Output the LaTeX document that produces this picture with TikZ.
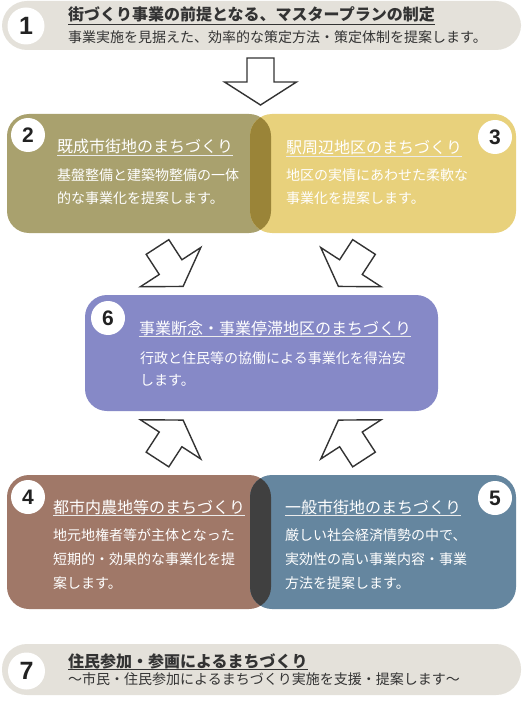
\documentclass[tikz,border=0pt]{standalone}
\usepackage{fontspec}
\setmainfont{Noto Sans CJK JP}
\newfontfamily\numfont{Liberation Sans}
\definecolor{pillgray}{HTML}{E4E1DA}
\definecolor{olivebox}{HTML}{A9A16E}
\definecolor{goldbox}{HTML}{E8D17C}
\definecolor{olivegold}{HTML}{9A8438}
\definecolor{violetbox}{HTML}{8689C7}
\definecolor{brownbox}{HTML}{A07868}
\definecolor{bluebox}{HTML}{65869F}
\definecolor{darkover}{HTML}{404040}
\definecolor{inkdark}{HTML}{333333}
\definecolor{numdark}{HTML}{222222}
\newcommand\myBlockArrow[3]{%
  \draw[barrow, shift={(#1,#2)}, rotate=#3]
    (-13.5,0) -- (13.5,0) -- (13.5,24) -- (36,24) -- (0,47) -- (-36,24) -- (-13.5,24) -- cycle;}
\begin{document}
\begin{tikzpicture}[x=1pt,y=-1pt,
  box/.style={rounded corners=22pt},
  pill/.style={rounded corners=25pt, fill=pillgray},
  numc/.style={circle, fill=white, inner sep=0pt, minimum size=34pt,
    font=\numfont\bfseries\fontsize{21}{21}\selectfont, text=numdark},
  bignumc/.style={numc, minimum size=37pt, font=\numfont\bfseries\fontsize{25}{25}\selectfont},
  ttl/.style={anchor=base west, inner sep=0pt, font=\fontsize{16}{16}\selectfont, text=white},
  bdy/.style={anchor=base west, inner sep=0pt, font=\fontsize{14}{14}\selectfont, text=white},
  dttl/.style={ttl, text=inkdark, font=\bfseries\fontsize{16}{16}\selectfont},
  dbdy/.style={bdy, text=inkdark},
  ulw/.style={draw=white!92!black, line width=0.9pt},
  uld/.style={draw=inkdark, line width=0.9pt},
  barrow/.style={draw=inkdark, fill=white, line width=1.4pt, line join=miter}
]
\useasboundingbox (0,0) rectangle (522,703);
\fill[white] (0,0) rectangle (522,703);

% ---- Box 1
\fill[pill] (2,1) rectangle (521,50);
\node[bignumc] (n1) at (26,26) {1};
\node[dttl] (t1) at (68,21) {街づくり事業の前提となる、マスタープランの制定};
\draw[uld] ([yshift=-3pt]t1.base west) -- ([yshift=-3pt]t1.base east);
\node[dbdy] (s1) at (68,43) {事業実施を見据えた、効率的な策定方法・策定体制を提案します。};

% ---- top arrow
\myBlockArrow{260.5}{58}{0}

% ---- Boxes 2 and 3
\fill[box, olivebox] (7,114) rectangle (271,233);
\fill[box, goldbox] (250,114) rectangle (516,233);
\begin{scope}
  \clip[box] (7,114) rectangle (271,233);
  \fill[box, olivegold] (250,114) rectangle (516,233);
\end{scope}
\node[numc] (n2) at (28,135) {2};
\node[ttl] (t2) at (57,153) {既成市街地のまちづくり};
\draw[ulw] ([yshift=-2.5pt]t2.base west) -- ([yshift=-2.5pt]t2.base east);
\node[bdy] (b2a) at (57,180.5) {基盤整備と建築物整備の一体};
\node[bdy] (b2b) at (57,204) {的な事業化を提案します。};

\node[numc] (n3) at (495,137) {3};
\node[ttl] (t3) at (286,153.5) {駅周辺地区のまちづくり};
\draw[ulw] ([yshift=-2.5pt]t3.base west) -- ([yshift=-2.5pt]t3.base east);
\node[bdy] (b3a) at (286,180.5) {地区の実情にあわせた柔軟な};
\node[bdy] (b3b) at (286,204) {事業化を提案します。};

% ---- arrows towards box 6
\myBlockArrow{157.5}{247}{33}
\myBlockArrow{364}{247}{-33}

% ---- Box 6
\fill[box, violetbox] (85,295) rectangle (438,411);
\node[numc] (n6) at (108,318) {6};
\node[ttl] (t6) at (139,334) {事業断念・事業停滞地区のまちづくり};
\draw[ulw] ([yshift=-2.5pt]t6.base west) -- ([yshift=-2.5pt]t6.base east);
\node[bdy] (b6a) at (140,363.5) {行政と住民等の協働による事業化を得治安};
\node[bdy] (b6b) at (140,385.5) {します。};

% ---- arrows from bottom
\myBlockArrow{157.5}{459.5}{147}
\myBlockArrow{364}{459.5}{-147}

% ---- Boxes 4 and 5
\fill[box, brownbox] (7,475) rectangle (271,609);
\fill[box, bluebox] (250,475) rectangle (516,609);
\begin{scope}
  \clip[box] (7,475) rectangle (271,609);
  \fill[box, darkover] (250,475) rectangle (516,609);
\end{scope}
\node[numc] (n4) at (28,497) {4};
\node[ttl] (t4) at (53,513) {都市内農地等のまちづくり};
\draw[ulw] ([yshift=-2.5pt]t4.base west) -- ([yshift=-2.5pt]t4.base east);
\node[bdy] (b4a) at (53,540.5) {地元地権者等が主体となった};
\node[bdy] (b4b) at (53,564) {短期的・効果的な事業化を提};
\node[bdy] (b4c) at (53,588.5) {案します。};

\node[numc] (n5) at (495,498) {5};
\node[ttl] (t5) at (285,513) {一般市街地のまちづくり};
\draw[ulw] ([yshift=-2.5pt]t5.base west) -- ([yshift=-2.5pt]t5.base east);
\node[bdy] (b5a) at (285,540.5) {厳しい社会経済情勢の中で、};
\node[bdy] (b5b) at (285,564) {実効性の高い事業内容・事業};
\node[bdy] (b5c) at (285,588.5) {方法を提案します。};

% ---- Box 7
\fill[pill] (2,644) rectangle (521,695);
\node[bignumc] (n7) at (26.5,671) {7};
\node[dttl] (t7) at (68,667) {住民参加・参画によるまちづくり};
\draw[uld] ([yshift=-2.5pt]t7.base west) -- ([yshift=-2.5pt]t7.base east);
\node[dbdy] (s7) at (68,684.5) {〜市民・住民参加によるまちづくり実施を支援・提案します〜};
\end{tikzpicture}
\end{document}
